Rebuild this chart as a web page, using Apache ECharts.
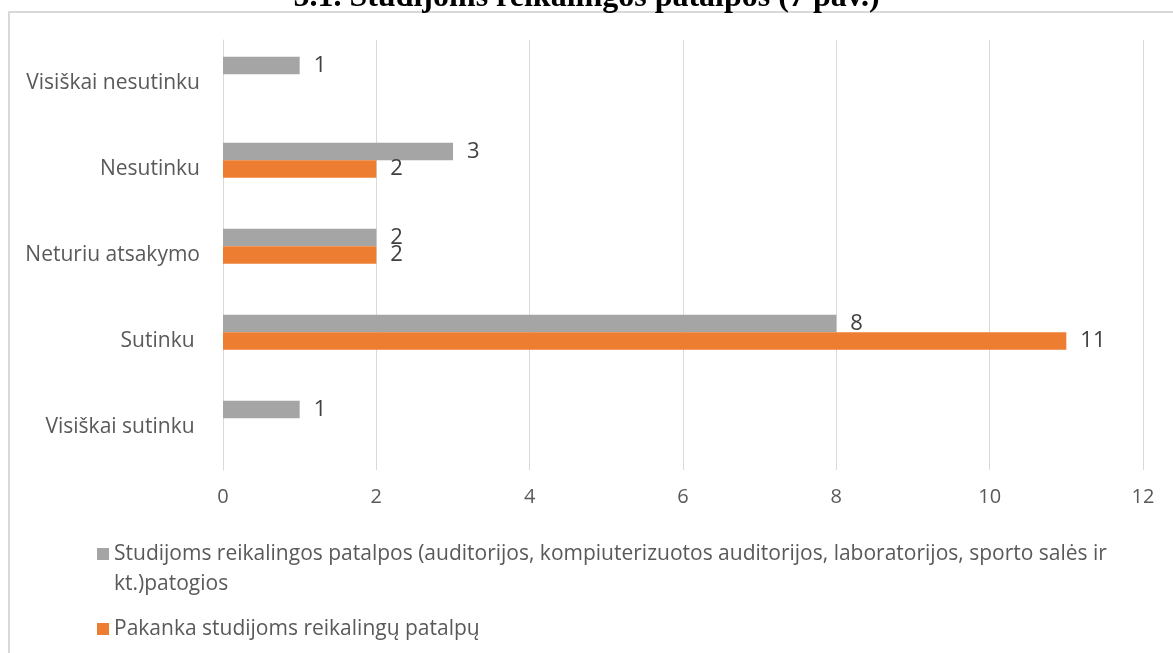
<!DOCTYPE html>
<html>
<head>
<meta charset="utf-8">
<script src="https://cdn.jsdelivr.net/npm/echarts@6/dist/echarts.min.js"></script>
<style>
html,body{margin:0;padding:0;background:#fff;}
#chart{width:1173px;height:653px;}
</style>
</head>
<body>
<div id="chart"></div>
<script>
var titleText = '5.1. Studijoms reikalingos patalpos (7 pav.)';
var categories = ['Visiškai nesutinku', 'Nesutinku', 'Neturiu atsakymo', 'Sutinku ', 'Visiškai sutinku '];
var seriesNames = [
  'Studijoms reikalingos patalpos (auditorijos, kompiuterizuotos auditorijos, laboratorijos, sporto salės ir kt.)patogios',
  'Pakanka studijoms reikalingų patalpų'
];
var patogios = [1, 3, 2, 8, 1];
var pakanka = [null, 2, 2, 11, null];
var tuscia = [null, null, null, null, null];
var xTicks = {min: 0, max: 12, interval: 2};

var chart = echarts.init(document.getElementById('chart'));
var font = 'Open Sans';
var labelCfg = {
  show: true, position: 'right', distance: 14,
  color: '#404040', fontFamily: font, fontSize: 22
};
chart.setOption({
  animation: false,
  backgroundColor: '#fff',
  title: {
    text: titleText,
    left: 'center',
    top: -23,
    textStyle: {fontFamily: 'Liberation Serif', fontWeight: 'bold', fontSize: 32, color: '#000'}
  },
  graphic: [{
    type: 'rect', silent: true, z: -1,
    shape: {x: 9, y: 12, width: 1300, height: 800},
    style: {fill: 'none', stroke: '#d9d9d9', lineWidth: 2}
  }],
  grid: {left: 223, right: 30, top: 40, bottom: 183, containLabel: false},
  xAxis: {
    type: 'value', min: xTicks.min, max: xTicks.max, interval: xTicks.interval,
    axisLine: {show: false}, axisTick: {show: false},
    splitLine: {lineStyle: {color: '#d9d9d9', width: 1}},
    axisLabel: {color: '#595959', fontFamily: font, fontSize: 20, margin: 17}
  },
  yAxis: {
    type: 'category', data: categories, inverse: true,
    axisLine: {show: true, lineStyle: {color: '#d9d9d9', width: 1}},
    axisTick: {show: false},
    axisLabel: {color: '#595959', fontFamily: font, fontSize: 21, margin: 23}
  },
  legend: [{
    data: [seriesNames[0]],
    orient: 'vertical', left: 97, top: 509, padding: 0,
    itemWidth: 12, itemHeight: 12,
    icon: 'rect',
    formatter: function (n) { return '\n' + n.replace(' ir kt.', ' ir\nkt.'); },
    textStyle: {color: '#595959', fontFamily: font, fontSize: 21, lineHeight: 30}
  }, {
    data: [seriesNames[1]],
    orient: 'vertical', left: 97, top: 614, padding: 0,
    itemWidth: 12, itemHeight: 12,
    icon: 'rect',
    textStyle: {color: '#595959', fontFamily: font, fontSize: 21, lineHeight: 30}
  }],
  series: [{
    name: seriesNames[0], type: 'bar', data: patogios,
    barWidth: 17.5, barGap: '0%',
    itemStyle: {color: '#A5A5A5'},
    label: labelCfg
  }, {
    name: seriesNames[1], type: 'bar', data: pakanka,
    barWidth: 17.5, barGap: '0%',
    itemStyle: {color: '#ED7D31'},
    label: labelCfg
  }, {
    name: 'tuščia', type: 'bar', data: tuscia,
    barWidth: 17.5, barGap: '0%',
    itemStyle: {color: 'rgba(0,0,0,0)'},
    label: {show: false}
  }]
});
</script>
</body>
</html>
